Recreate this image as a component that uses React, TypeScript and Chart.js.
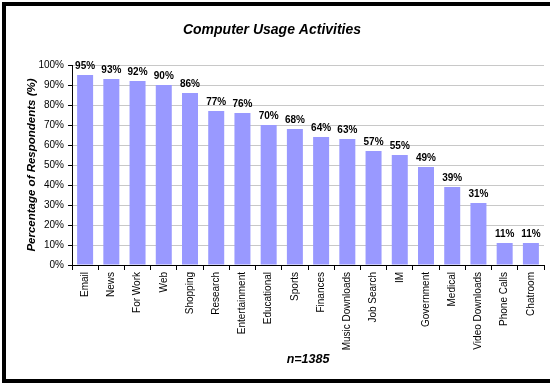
import React, { useEffect, useRef } from "react";
import { Chart, registerables } from "chart.js";

Chart.register(...registerables);

const categories = [
  "Email", "News", "For Work", "Web", "Shopping", "Research", "Entertainment",
  "Educational", "Sports", "Finances", "Music Downloads", "Job Search", "IM",
  "Government", "Medical", "Video Downloads", "Phone Calls", "Chatroom",
];
const percentages = [95, 93, 92, 90, 86, 77, 76, 70, 68, 64, 63, 57, 55, 49, 39, 31, 11, 11];
const yTickValues = [0, 10, 20, 30, 40, 50, 60, 70, 80, 90, 100];

const chartTitle = "Computer Usage Activities";
const yTitle = "Percentage of Respondents (%)";
const xTitle = "n=1385";

const FONT = "'Liberation Sans', Arial, Helvetica, sans-serif";

const valueLabels = {
  id: "valueLabels",
  afterDatasetsDraw(chart: any) {
    const ctx = chart.ctx;
    const meta = chart.getDatasetMeta(0);
    const data = chart.data.datasets[0].data as number[];
    ctx.save();
    ctx.font = `bold 10px ${FONT}`;
    ctx.fillStyle = "#000";
    ctx.textAlign = "center";
    ctx.textBaseline = "alphabetic";
    meta.data.forEach((el: any, i: number) => {
      ctx.fillText(`${data[i]}%`, el.x, el.y - 6);
    });
    ctx.restore();
  },
};

export default function App() {
  const ref = useRef<HTMLCanvasElement | null>(null);

  useEffect(() => {
    if (!ref.current) return;
    const chart = new Chart(ref.current, {
      type: "bar",
      data: {
        labels: categories,
        datasets: [
          {
            data: percentages,
            backgroundColor: "#9999FF",
            borderWidth: 0,
            categoryPercentage: 1,
            barPercentage: 0.61,
          },
        ],
      },
      options: {
        responsive: false,
        animation: false,
        layout: { padding: { left: 0, right: 6, top: 0, bottom: 0 } },
        plugins: {
          legend: { display: false },
          tooltip: { enabled: false },
          title: {
            display: true,
            text: chartTitle,
            color: "#000",
            font: { family: FONT, size: 14, weight: "bold", style: "italic" },
            padding: { top: 21.6, bottom: 26.6 },
          },
        },
        scales: {
          x: {
            grid: {
              display: true,
              drawOnChartArea: false,
              drawTicks: true,
              tickLength: 5,
              tickColor: "#000",
              offset: true,
            },
            border: { display: true, color: "#000", width: 1 },
            ticks: {
              autoSkip: false,
              minRotation: 90,
              maxRotation: 90,
              padding: 2,
              color: "#000",
              font: { family: FONT, size: 10 },
            },
            title: {
              display: true,
              text: xTitle,
              color: "#000",
              font: { family: FONT, size: 12.5, weight: "bold", style: "italic" },
              padding: { top: 0, bottom: 16.5 },
            },
            afterFit: (scale: any) => {
              scale.height = 119;
            },
          },
          y: {
            min: 0,
            max: 100,
            afterBuildTicks: (scale: any) => {
              scale.ticks = yTickValues.map((v) => ({ value: v }));
            },
            grid: {
              color: "#c8c8c8",
              drawTicks: true,
              tickLength: 4,
              tickColor: "#000",
            },
            border: { display: true, color: "#000", width: 1 },
            ticks: {
              padding: 4,
              color: "#000",
              font: { family: FONT, size: 10 },
              callback: (v: any) => `${v}%`,
            },
            title: {
              display: true,
              text: yTitle,
              color: "#000",
              font: { family: FONT, size: 11.5, weight: "bold", style: "italic" },
              padding: { top: 25, bottom: 0 },
            },
            afterFit: (scale: any) => {
              scale.width = 72;
            },
          },
        },
      },
      plugins: [valueLabels],
    });
    return () => chart.destroy();
  }, []);

  return (
    <div
      style={{
        position: "fixed",
        left: 0,
        top: 0,
        width: 550,
        height: 384,
        overflow: "hidden",
        background: "#fff",
      }}
    >
      <canvas ref={ref} width={550} height={384} style={{ display: "block" }} />
      <div
        style={{
          position: "absolute",
          left: 2,
          top: 2,
          width: 600,
          height: 381,
          boxSizing: "border-box",
          border: "4px solid #000",
          pointerEvents: "none",
        }}
      />
    </div>
  );
}
